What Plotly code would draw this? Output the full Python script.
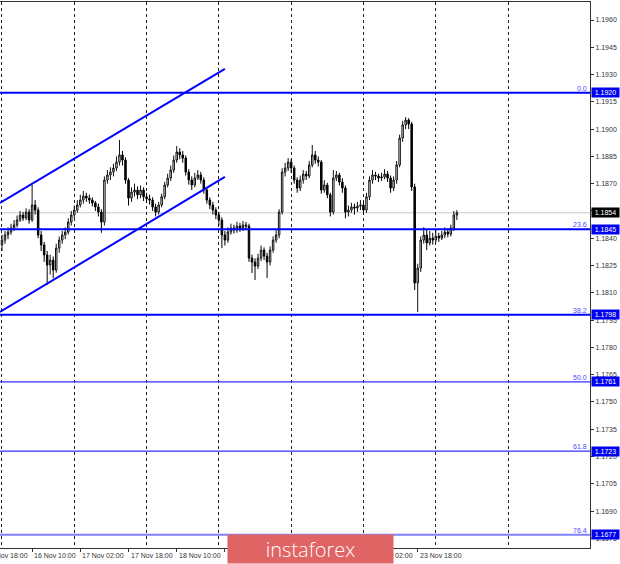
import plotly.graph_objects as go

# ---------------- data (EUR/USD H1) ----------------
open_ = [
    1.18363, 1.18390, 1.18418, 1.18434, 1.18456, 1.18473, 1.18500, 1.18528, 1.18511, 1.18544,
    1.18500, 1.18583, 1.18555, 1.18418, 1.18363, 1.18308, 1.18253, 1.18280, 1.18225, 1.18346,
    1.18390, 1.18418, 1.18434, 1.18489, 1.18528, 1.18555, 1.18583, 1.18610, 1.18632, 1.18621,
    1.18610, 1.18594, 1.18572, 1.18544, 1.18489, 1.18720, 1.18748, 1.18764, 1.18786, 1.18819,
    1.18858, 1.18830, 1.18720, 1.18621, 1.18654, 1.18665, 1.18639, 1.18665, 1.18628, 1.18617,
    1.18610, 1.18572, 1.18544, 1.18583, 1.18628, 1.18693, 1.18731, 1.18775, 1.18830, 1.18874,
    1.18858, 1.18841, 1.18764, 1.18720, 1.18693, 1.18731, 1.18748, 1.18720, 1.18665, 1.18610,
    1.18583, 1.18555, 1.18528, 1.18500, 1.18418, 1.18390, 1.18434, 1.18456, 1.18445, 1.18467,
    1.18456, 1.18473, 1.18467, 1.18291, 1.18269, 1.18247, 1.18291, 1.18335, 1.18302, 1.18269,
    1.18335, 1.18390, 1.18418, 1.18544, 1.18764, 1.18786, 1.18819, 1.18786, 1.18720, 1.18676,
    1.18720, 1.18753, 1.18742, 1.18803, 1.18858, 1.18830, 1.18819, 1.18665, 1.18693, 1.18639,
    1.18544, 1.18731, 1.18748, 1.18709, 1.18676, 1.18544, 1.18555, 1.18572, 1.18566, 1.18577,
    1.18583, 1.18555, 1.18628, 1.18720, 1.18748, 1.18742, 1.18731, 1.18737, 1.18753, 1.18731,
    1.18676, 1.18720, 1.18803, 1.18951, 1.19023, 1.19050, 1.19028, 1.18682, 1.18154, 1.18236,
    1.18390, 1.18418, 1.18374, 1.18401, 1.18390, 1.18412, 1.18401, 1.18418, 1.18434, 1.18423,
    1.18456, 1.18528,
]
high = [
    1.18420, 1.18440, 1.18460, 1.18480, 1.18500, 1.18525, 1.18550, 1.18545, 1.18565, 1.18560,
    1.18693, 1.18610, 1.18570, 1.18440, 1.18380, 1.18330, 1.18310, 1.18300, 1.18370, 1.18410,
    1.18440, 1.18460, 1.18510, 1.18550, 1.18580, 1.18610, 1.18640, 1.18660, 1.18650, 1.18640,
    1.18625, 1.18605, 1.18590, 1.18560, 1.18740, 1.18775, 1.18790, 1.18810, 1.18850, 1.18940,
    1.18880, 1.18845, 1.18730, 1.18680, 1.18700, 1.18685, 1.18690, 1.18680, 1.18650, 1.18640,
    1.18625, 1.18590, 1.18600, 1.18645, 1.18710, 1.18755, 1.18800, 1.18855, 1.18907, 1.18895,
    1.18880, 1.18855, 1.18780, 1.18740, 1.18760, 1.18775, 1.18765, 1.18735, 1.18680, 1.18625,
    1.18600, 1.18570, 1.18545, 1.18515, 1.18440, 1.18460, 1.18480, 1.18475, 1.18490, 1.18485,
    1.18495, 1.18490, 1.18480, 1.18310, 1.18290, 1.18315, 1.18360, 1.18350, 1.18320, 1.18355,
    1.18410, 1.18445, 1.18560, 1.18785, 1.18815, 1.18841, 1.18835, 1.18800, 1.18735, 1.18745,
    1.18775, 1.18770, 1.18825, 1.18913, 1.18880, 1.18850, 1.18830, 1.18720, 1.18705, 1.18650,
    1.18775, 1.18770, 1.18760, 1.18730, 1.18690, 1.18580, 1.18595, 1.18590, 1.18600, 1.18610,
    1.18600, 1.18650, 1.18740, 1.18775, 1.18765, 1.18755, 1.18760, 1.18780, 1.18770, 1.18745,
    1.18740, 1.18825, 1.18970, 1.19045, 1.19066, 1.19060, 1.19040, 1.18700, 1.18260, 1.18410,
    1.18460, 1.18450, 1.18440, 1.18430, 1.18450, 1.18430, 1.18440, 1.18460, 1.18455, 1.18475,
    1.18550, 1.18555,
]
low = [
    1.18330, 1.18370, 1.18395, 1.18420, 1.18440, 1.18460, 1.18490, 1.18495, 1.18500, 1.18480,
    1.18490, 1.18530, 1.18400, 1.18330, 1.18270, 1.18143, 1.18200, 1.18180, 1.18210, 1.18320,
    1.18370, 1.18395, 1.18420, 1.18470, 1.18510, 1.18540, 1.18570, 1.18590, 1.18600, 1.18590,
    1.18575, 1.18550, 1.18520, 1.18430, 1.18470, 1.18700, 1.18720, 1.18740, 1.18770, 1.18800,
    1.18800, 1.18700, 1.18580, 1.18600, 1.18630, 1.18615, 1.18620, 1.18605, 1.18595, 1.18585,
    1.18550, 1.18520, 1.18530, 1.18570, 1.18615, 1.18680, 1.18715, 1.18760, 1.18815, 1.18835,
    1.18815, 1.18745, 1.18695, 1.18665, 1.18680, 1.18720, 1.18700, 1.18645, 1.18590, 1.18560,
    1.18530, 1.18505, 1.18470, 1.18346, 1.18360, 1.18375, 1.18420, 1.18425, 1.18430, 1.18435,
    1.18440, 1.18445, 1.18270, 1.18209, 1.18170, 1.18230, 1.18275, 1.18280, 1.18181, 1.18250,
    1.18320, 1.18375, 1.18400, 1.18530, 1.18740, 1.18770, 1.18760, 1.18700, 1.18650, 1.18660,
    1.18700, 1.18720, 1.18730, 1.18790, 1.18810, 1.18795, 1.18645, 1.18650, 1.18620, 1.18520,
    1.18530, 1.18715, 1.18690, 1.18650, 1.18510, 1.18520, 1.18540, 1.18530, 1.18545, 1.18555,
    1.18530, 1.18540, 1.18610, 1.18700, 1.18720, 1.18710, 1.18715, 1.18725, 1.18710, 1.18650,
    1.18660, 1.18700, 1.18790, 1.18930, 1.19000, 1.19000, 1.18660, 1.18115, 1.17994, 1.18215,
    1.18370, 1.18335, 1.18360, 1.18365, 1.18375, 1.18380, 1.18390, 1.18400, 1.18405, 1.18410,
    1.18440, 1.18500,
]
close = [
    1.18390, 1.18418, 1.18434, 1.18456, 1.18473, 1.18500, 1.18528, 1.18511, 1.18544, 1.18500,
    1.18583, 1.18555, 1.18418, 1.18363, 1.18308, 1.18253, 1.18280, 1.18225, 1.18346, 1.18390,
    1.18418, 1.18434, 1.18489, 1.18528, 1.18555, 1.18583, 1.18610, 1.18632, 1.18621, 1.18610,
    1.18594, 1.18572, 1.18544, 1.18489, 1.18720, 1.18748, 1.18764, 1.18786, 1.18819, 1.18858,
    1.18830, 1.18720, 1.18621, 1.18654, 1.18665, 1.18639, 1.18665, 1.18628, 1.18617, 1.18610,
    1.18572, 1.18544, 1.18583, 1.18628, 1.18693, 1.18731, 1.18775, 1.18830, 1.18874, 1.18858,
    1.18841, 1.18764, 1.18720, 1.18693, 1.18731, 1.18748, 1.18720, 1.18665, 1.18610, 1.18583,
    1.18555, 1.18528, 1.18500, 1.18418, 1.18390, 1.18434, 1.18456, 1.18445, 1.18467, 1.18456,
    1.18473, 1.18467, 1.18291, 1.18269, 1.18247, 1.18291, 1.18335, 1.18302, 1.18269, 1.18335,
    1.18390, 1.18418, 1.18544, 1.18764, 1.18786, 1.18819, 1.18786, 1.18720, 1.18676, 1.18720,
    1.18753, 1.18742, 1.18803, 1.18858, 1.18830, 1.18819, 1.18665, 1.18693, 1.18639, 1.18544,
    1.18731, 1.18748, 1.18709, 1.18676, 1.18544, 1.18555, 1.18572, 1.18566, 1.18577, 1.18583,
    1.18555, 1.18628, 1.18720, 1.18748, 1.18742, 1.18731, 1.18737, 1.18753, 1.18731, 1.18676,
    1.18720, 1.18803, 1.18951, 1.19023, 1.19050, 1.19028, 1.18682, 1.18154, 1.18236, 1.18390,
    1.18418, 1.18374, 1.18401, 1.18390, 1.18412, 1.18401, 1.18418, 1.18434, 1.18423, 1.18456,
    1.18528, 1.18540,
]
bar_index = list(range(len(close)))  # hourly bars from 16 Nov 00:00

day_start_index = [0, 24, 48, 72, 96, 120, 144, 168]
time_label_index = [-6, 10, 26, 42, 58, 74, 90, 106, 122, 138]
time_labels = ["13 Nov 18:00", "16 Nov 10:00", "17 Nov 02:00", "17 Nov 18:00",
               "18 Nov 10:00", "19 Nov 02:00", "19 Nov 18:00", "20 Nov 10:00",
               "23 Nov 02:00", "23 Nov 18:00"]

price_ticks = [1.1675, 1.1690, 1.1705, 1.1720, 1.1735, 1.1750, 1.1765, 1.1780,
               1.1795, 1.1810, 1.1825, 1.1840, 1.1855, 1.1870, 1.1885, 1.1900,
               1.1915, 1.1930, 1.1945, 1.1960]

fib_pct = ["0.0", "23.6", "38.2", "50.0", "61.8", "76.4"]
fib_price = [1.1920, 1.1845, 1.1798, 1.1761, 1.1723, 1.1677]
fib_line_color = ["#0000ff", "#0000ff", "#0000ff", "#3030ff", "#3030ff", "#8080ff"]
fib_line_width = [2, 2, 2, 1.3, 1.3, 2]

current_price = 1.1854

channel_x = [-0.66, 74.0]
channel_upper = [1.18594, 1.19331]
channel_lower = [1.17995, 1.18737]

x_range = [-0.66, 195.2]
y_range = [1.16697, 1.19699]

FONT = "Liberation Sans"

# ---------------- figure ----------------
fig = go.Figure()

fig.add_trace(go.Candlestick(
    x=bar_index, open=open_, high=high, low=low, close=close,
    increasing=dict(line=dict(color="#111111", width=1), fillcolor="#f4f4f4"),
    decreasing=dict(line=dict(color="#000000", width=1), fillcolor="#000000"),
    whiskerwidth=0, hoverinfo="skip", showlegend=False,
))

shapes = []
# current price line
shapes.append(dict(type="line", xref="paper", x0=0, x1=1, yref="y",
                   y0=current_price, y1=current_price,
                   line=dict(color="#c8c8c8", width=1), layer="below"))
# fibonacci levels
for p, c, w in zip(fib_price, fib_line_color, fib_line_width):
    shapes.append(dict(type="line", xref="paper", x0=0, x1=1, yref="y", y0=p, y1=p,
                       line=dict(color=c, width=w), layer="above"))
# channel
for ys in (channel_upper, channel_lower):
    shapes.append(dict(type="line", xref="x", yref="y",
                       x0=channel_x[0], x1=channel_x[1], y0=ys[0], y1=ys[1],
                       line=dict(color="#0000ff", width=2), layer="above"))

annotations = []
# fib percentage texts
for t, p in zip(fib_pct, fib_price):
    annotations.append(dict(text=t, xref="paper", x=1, xanchor="right", xshift=-1,
                            yref="y", y=p, yanchor="bottom", yshift=-1,
                            showarrow=False,
                            font=dict(family=FONT, size=7, color="#4a4aff")))
# price boxes on the axis
for p in fib_price:
    annotations.append(dict(text=f"{p:.4f}", xref="paper", x=1, xanchor="left", xshift=1,
                            yref="y", y=p, yanchor="middle", showarrow=False,
                            width=27, height=9, bgcolor="#0000f0", borderpad=0,
                            font=dict(family=FONT, size=7, color="#ffffff")))
annotations.append(dict(text=f"{current_price:.4f}", xref="paper", x=1, xanchor="left",
                        xshift=1, yref="y", y=current_price, yanchor="middle",
                        showarrow=False, width=27, height=9, bgcolor="#000000",
                        borderpad=0, font=dict(family=FONT, size=7, color="#ffffff")))
# time labels (left-aligned at their tick, MT4 style)
span = x_range[1] - x_range[0]
for i, t in zip(time_label_index, time_labels):
    annotations.append(dict(text=t, xref="paper", x=(i - x_range[0]) / span,
                            xanchor="left", xshift=0, yref="paper", y=0,
                            yanchor="top", yshift=-2, showarrow=False,
                            font=dict(family=FONT, size=7, color="#333333")))
# logo
annotations.append(dict(text="instaforex", xref="paper", x=0.5263, xanchor="center",
                        yref="paper", y=-0.0018, yanchor="middle", showarrow=False,
                        width=165, height=28, bgcolor="#e06464", borderpad=0,
                        font=dict(family="Open Sans", size=20, color="#ffffff",
                                  weight=300)))

fig.update_layout(
    width=620, height=564,
    margin=dict(l=0, r=30, t=2, b=16),
    paper_bgcolor="#ffffff", plot_bgcolor="#ffffff",
    shapes=shapes, annotations=annotations,
    showlegend=False,
    xaxis=dict(
        range=x_range, rangeslider=dict(visible=False),
        tickmode="array", tickvals=time_label_index, ticktext=[""] * len(time_label_index),
        ticks="outside", ticklen=3, tickcolor="#333333",
        showgrid=False, zeroline=False,
        showline=True, linecolor="#333333", linewidth=1, mirror=True,
        minor=dict(tickmode="array", tickvals=day_start_index, showgrid=True,
                   gridcolor="#222222", griddash="dot", gridwidth=1, ticks=""),
    ),
    yaxis=dict(
        range=y_range, side="right",
        tickmode="array", tickvals=price_ticks,
        ticktext=[f"{v:.4f}" for v in price_ticks],
        ticks="outside", ticklen=3, tickcolor="#333333",
        tickfont=dict(family=FONT, size=7, color="#333333"),
        showgrid=False, zeroline=False, automargin=False,
        showline=True, linecolor="#333333", linewidth=1, mirror=False,
    ),
)

fig.write_html("out.html", config={"displayModeBar": False},
               post_script="document.body.style.margin='0';document.body.style.overflow='hidden';")
